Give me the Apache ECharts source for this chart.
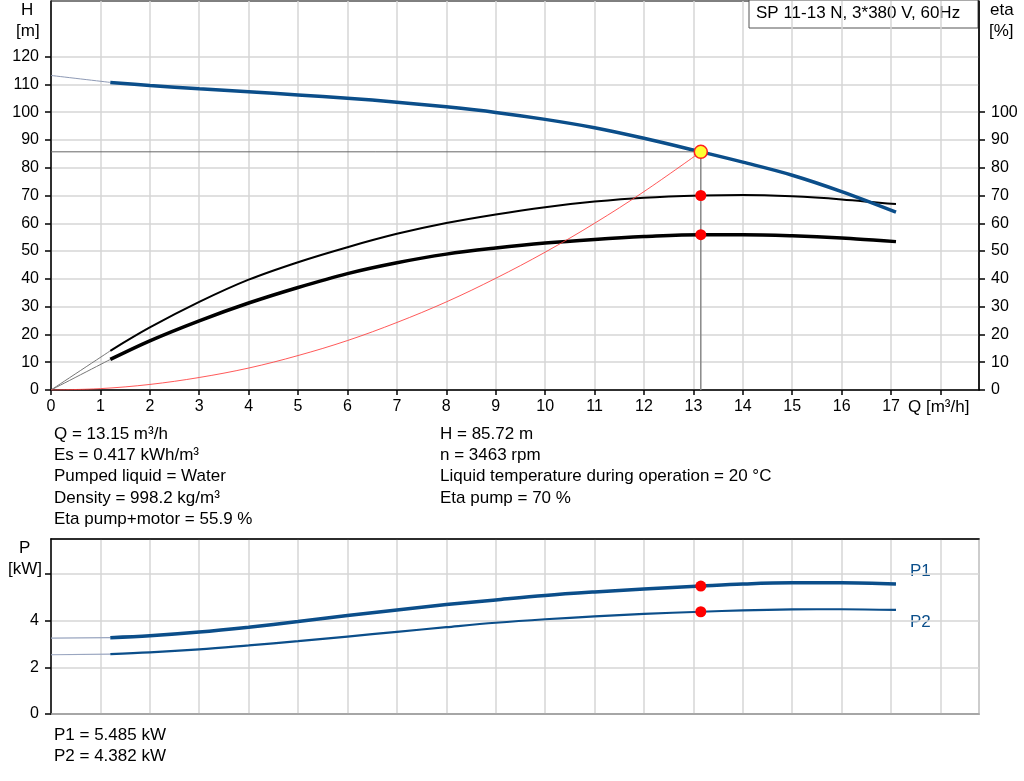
<!DOCTYPE html>
<html>
<head>
<meta charset="utf-8">
<script src="https://cdn.jsdelivr.net/npm/echarts@6/dist/echarts.min.js"></script>
<style>html,body{margin:0;padding:0;background:#fff}#c{width:1024px;height:781px}</style>
</head>
<body>
<div id="c"></div>
<script>
// ---- data ----
const Q = [1.2, 2, 3, 4, 5, 6, 7, 8, 9, 10, 11, 12, 13.15, 14, 15, 16, 17.1];
const H = [110.7, 109.6, 108.4, 107.3, 106.2, 105.0, 103.6, 101.9, 99.9, 97.4, 94.4, 90.6, 85.72, 82.0, 77.3, 71.4, 64.0];
const etaPump = [14.1, 22.5, 31.7, 39.7, 46.0, 51.4, 56.2, 60.1, 63.2, 65.8, 67.8, 69.2, 70.0, 70.2, 69.7, 68.6, 66.9];
const etaPumpMotor = [11.0, 17.7, 24.9, 31.3, 36.9, 41.9, 45.8, 48.9, 51.1, 52.9, 54.2, 55.2, 55.9, 55.9, 55.5, 54.7, 53.4];
const P1 = [3.27, 3.35, 3.51, 3.72, 3.96, 4.22, 4.46, 4.69, 4.89, 5.08, 5.23, 5.36, 5.485, 5.57, 5.62, 5.62, 5.57];
const P2 = [2.57, 2.64, 2.77, 2.94, 3.12, 3.32, 3.52, 3.72, 3.91, 4.06, 4.18, 4.29, 4.382, 4.44, 4.48, 4.49, 4.46];
const Qext = [0, 1.2];
const Hext = [113.2, 110.7];
const etaPumpExt = [0, 14.1];
const etaPumpMotorExt = [0, 11.0];
const P1ext = [3.25, 3.27];
const P2ext = [2.54, 2.57];
const Qsys = [0, 1, 2, 3, 4, 5, 6, 7, 8, 9, 10, 11, 12, 13.15];
const Hsys = [0, 0.5, 2.0, 4.5, 7.9, 12.4, 17.8, 24.3, 31.7, 40.2, 49.6, 60.0, 71.4, 85.72];
const duty = {Q: 13.15, H: 85.72, etaPump: 70, etaPumpMotor: 55.9, P1: 5.485, P2: 4.382};
const xTicks = [0,1,2,3,4,5,6,7,8,9,10,11,12,13,14,15,16,17,18];
const xLabels = [0,1,2,3,4,5,6,7,8,9,10,11,12,13,14,15,16,17];
const hTicks = [0,10,20,30,40,50,60,70,80,90,100,110,120];
const etaTicks = [0,10,20,30,40,50,60,70,80,90,100];
const pTicks = [0,2,4,6];
const pLabels = [0,2,4];
const infoLeft = ['Q = 13.15 m³/h', 'Es = 0.417 kWh/m³', 'Pumped liquid = Water', 'Density = 998.2 kg/m³', 'Eta pump+motor = 55.9 %'];
const infoRight = ['H = 85.72 m', 'n = 3463 rpm', 'Liquid temperature during operation = 20 °C', 'Eta pump = 70 %'];
const infoPower = ['P1 = 5.485 kW', 'P2 = 4.382 kW'];
const title = 'SP 11-13 N, 3*380 V, 60Hz';

// ---- chart ----
const zip = (xs, ys) => xs.map((x, i) => [x, ys[i]]);
const FONT = 'Liberation Sans, Arial, sans-serif';
const BLUE = '#0b4e8a';
const GRID = '#d6d6d6';
const chart = echarts.init(document.getElementById('c'), null, {renderer: 'canvas'});

function line(data, color, width, xi, yi, z) {
  return {type: 'line', data, xAxisIndex: xi, yAxisIndex: yi, smooth: 0.35, symbol: 'none',
    lineStyle: {color, width}, z: z || 2, silent: true, animation: false};
}
function dot(pt, xi, yi, fill, border, size) {
  return {type: 'scatter', data: [pt], xAxisIndex: xi, yAxisIndex: yi, symbolSize: size,
    itemStyle: {color: fill, borderColor: border, borderWidth: border ? 1.5 : 0, opacity: 1}, z: 10, silent: true, animation: false};
}
const ts = {fontFamily: FONT, fontSize: 17, fill: '#000', verticalAlign: 'middle'};
const txt = (t, x, y, extra) => ({type: 'text', x, y, style: Object.assign({}, ts, {text: t}, extra || {})});
const graphics = [];
infoLeft.forEach((t, i) => graphics.push(txt(t, 54, 434 + i * 21.3)));
infoRight.forEach((t, i) => graphics.push(txt(t, 440, 434 + i * 21.3)));
infoPower.forEach((t, i) => graphics.push(txt(t, 54, 735.5 + i * 21.3)));
graphics.push(txt('H', 21, 10));
graphics.push(txt('[m]', 16, 31));
graphics.push(txt('eta', 990, 10));
graphics.push(txt('[%]', 989, 31));
graphics.push(txt('P', 19, 548));
graphics.push(txt('[kW]', 8, 569));
graphics.push(txt('Q [m³/h]', 908, 407));
graphics.push(txt('P1', 910, 571, {fill: BLUE}));
graphics.push(txt('P2', 910, 622, {fill: BLUE}));
graphics.push({type: 'group', x: 749, y: 0, z: 20, children: [
  {type: 'rect', shape: {x: 0, y: 0, width: 229, height: 28}, style: {fill: '#fff', stroke: '#555', lineWidth: 1}},
  txt(title, 7, 13.5)
]});

const xCommon = {type: 'value', min: 0, max: 18.78, interval: 1};
const option = {
  animation: false,
  backgroundColor: '#fff',
  textStyle: {fontFamily: FONT},
  grid: [
    {left: 51, right: 45, top: 1, height: 389, show: true, borderColor: '#000', borderWidth: 1, backgroundColor: 'transparent'},
    {left: 51, right: 45, top: 539, height: 175, show: true, borderColor: '#999', borderWidth: 1.5, backgroundColor: 'transparent'}
  ],
  xAxis: [
    Object.assign({}, xCommon, {gridIndex: 0, position: 'bottom',
      axisLine: {show: true, onZero: false, lineStyle: {color: '#000', width: 1.5}},
      axisTick: {show: true, length: 5, inside: false, customValues: xTicks, lineStyle: {color: '#000', width: 1.5}},
      axisLabel: {show: true, margin: 9, fontSize: 16, color: '#000', fontFamily: FONT, customValues: xLabels,
        formatter: v => (v <= 17 && Number.isInteger(v)) ? String(v) : ''},
      splitLine: {show: true, lineStyle: {color: GRID, width: 1.5}}}),
    Object.assign({}, xCommon, {gridIndex: 1, position: 'bottom',
      axisLine: {show: true, onZero: false, lineStyle: {color: '#999', width: 1.5}},
      axisTick: {show: false}, axisLabel: {show: false},
      splitLine: {show: true, lineStyle: {color: GRID, width: 1.5}}}),
    Object.assign({}, xCommon, {gridIndex: 1, position: 'top',
      axisLine: {show: true, onZero: false, lineStyle: {color: '#000', width: 1.5}},
      axisTick: {show: false}, axisLabel: {show: false}, splitLine: {show: false}})
  ],
  yAxis: [
    {type: 'value', gridIndex: 0, position: 'left', min: 0, max: 140, interval: 10,
      axisLine: {show: true, onZero: false, lineStyle: {color: '#000', width: 1.5}},
      axisTick: {show: true, length: 6, customValues: hTicks, lineStyle: {color: '#000', width: 1.5}},
      axisLabel: {margin: 12, fontSize: 16, color: '#000', fontFamily: FONT, customValues: hTicks,
        formatter: v => v <= 120 ? String(v) : ''},
      splitLine: {show: true, lineStyle: {color: GRID, width: 1.5}}},
    {type: 'value', gridIndex: 0, position: 'right', min: 0, max: 140, interval: 10,
      axisLine: {show: true, onZero: false, lineStyle: {color: '#000', width: 1.5}},
      axisTick: {show: true, length: 6, customValues: etaTicks, lineStyle: {color: '#000', width: 1.5}},
      axisLabel: {margin: 12, fontSize: 16, color: '#000', fontFamily: FONT, customValues: etaTicks,
        formatter: v => v <= 100 ? String(v) : ''},
      splitLine: {show: false}},
    {type: 'value', gridIndex: 1, position: 'left', min: 0, max: 7.5, interval: 2,
      axisLine: {show: true, onZero: false, lineStyle: {color: '#000', width: 1.5}},
      axisTick: {show: true, length: 6, customValues: pTicks, lineStyle: {color: '#000', width: 1.5}},
      axisLabel: {margin: 12, fontSize: 16, color: '#000', fontFamily: FONT, customValues: pLabels,
        formatter: v => v <= 4 ? String(v) : ''},
      splitLine: {show: true, lineStyle: {color: GRID, width: 1.5}}}
  ],
  graphic: graphics,
  series: [
    line(zip(Qext, Hext), '#8e9ab5', 1, 0, 0),
    line(zip(Qext, etaPumpExt), '#777', 1, 0, 1),
    line(zip(Qext, etaPumpMotorExt), '#777', 1, 0, 1),
    line(zip(Q, etaPump), '#000', 2, 0, 1, 3),
    line(zip(Q, etaPumpMotor), '#000', 3.5, 0, 1, 3),
    line(zip(Q, H), BLUE, 3.5, 0, 0, 4),
    line(zip(Qsys, Hsys), 'rgba(255,60,60,0.85)', 1, 0, 0, 5),
    {type: 'line', data: [[0, duty.H], [duty.Q, duty.H]], xAxisIndex: 0, yAxisIndex: 0, symbol: 'none',
      lineStyle: {color: '#666', width: 1}, z: 5, silent: true},
    {type: 'line', data: [[duty.Q, 0], [duty.Q, duty.H]], xAxisIndex: 0, yAxisIndex: 0, symbol: 'none',
      lineStyle: {color: '#888', width: 1.5}, z: 5, silent: true},
    dot([duty.Q, duty.etaPump], 0, 1, '#ff0000', null, 11),
    dot([duty.Q, duty.etaPumpMotor], 0, 1, '#ff0000', null, 11),
    dot([duty.Q, duty.H], 0, 0, '#ffff33', '#ff2020', 13),
    line(zip(Qext, P1ext), '#9aa6c0', 1.2, 1, 2),
    line(zip(Qext, P2ext), '#9aa6c0', 1.2, 1, 2),
    line(zip(Q, P1), BLUE, 3.5, 1, 2, 4),
    line(zip(Q, P2), BLUE, 2.2, 1, 2, 4),
    dot([duty.Q, duty.P1], 1, 2, '#ff0000', null, 11),
    dot([duty.Q, duty.P2], 1, 2, '#ff0000', null, 11)
  ]
};
chart.setOption(option);
</script>
</body>
</html>
